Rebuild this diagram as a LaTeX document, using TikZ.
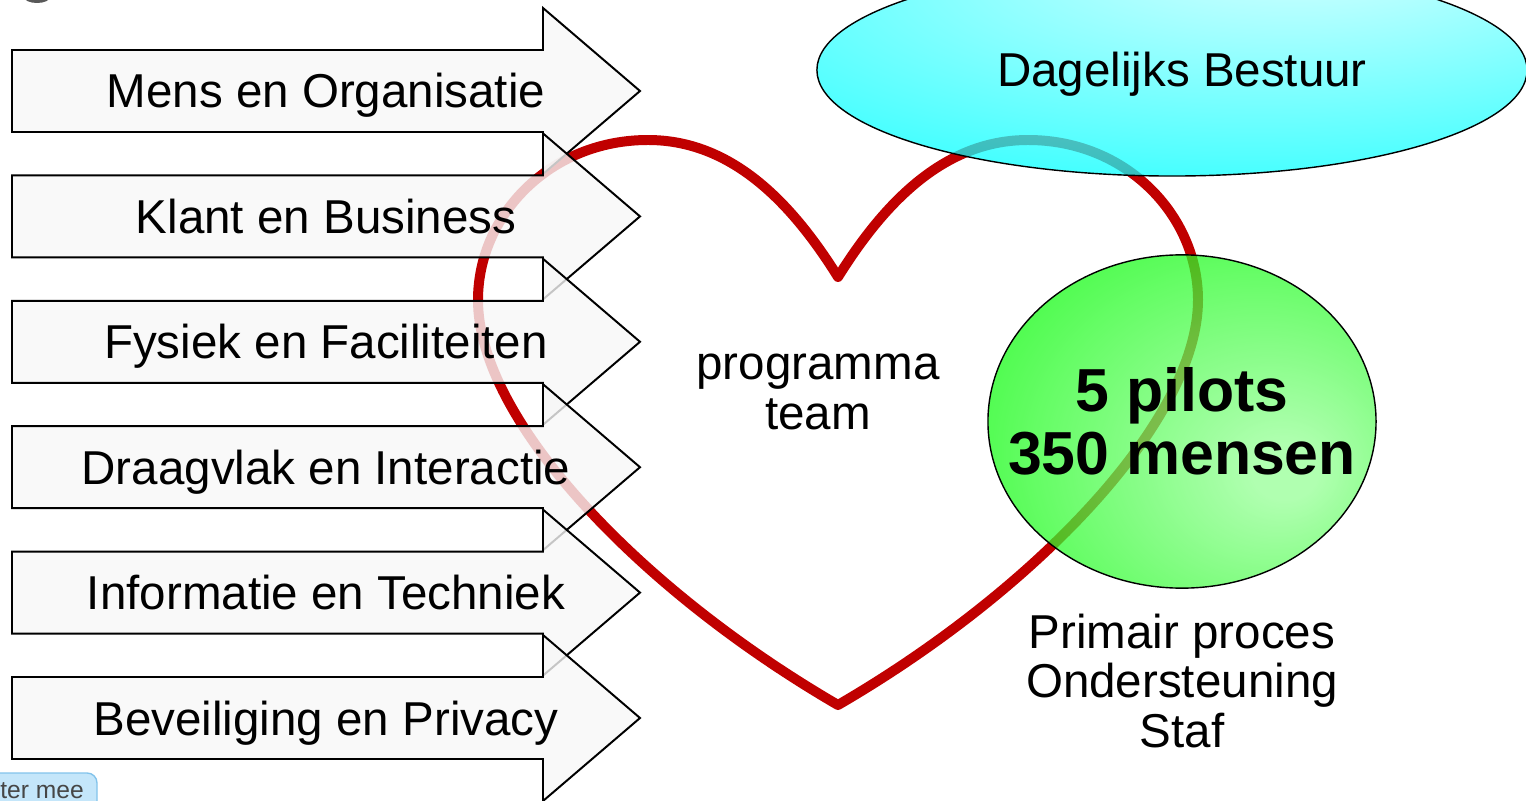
\documentclass[tikz,border=0pt]{standalone}
\usepackage{fontspec}
\setmainfont{Liberation Sans}
\usetikzlibrary{shapes.geometric}
\definecolor{heartred}{RGB}{192,0,0}
\definecolor{arrowgray}{RGB}{247,247,247}
\definecolor{boardcyan}{RGB}{0,255,255}
\definecolor{boardlight}{RGB}{180,255,255}
\definecolor{pilotgreen}{RGB}{0,250,0}
\definecolor{pilotlight}{RGB}{150,255,150}
\definecolor{btnblue}{RGB}{196,230,250}
\definecolor{btnedge}{RGB}{130,195,235}
\definecolor{btntext}{RGB}{70,70,70}
\pgfdeclareradialshading{boardshade}{\pgfpoint{10bp}{30bp}}{color(0bp)=(boardlight); color(6bp)=(boardlight); color(42bp)=(boardcyan); color(80bp)=(boardcyan)}
\pgfdeclareradialshading{pilotshade}{\pgfpoint{14bp}{-8bp}}{color(0bp)=(pilotlight); color(4bp)=(pilotlight); color(40bp)=(pilotgreen); color(80bp)=(pilotgreen)}

\begin{document}
\begin{tikzpicture}[x=0.025cm,y=-0.025cm,
  arrowbox/.style={draw=black,line width=1.4pt,fill=arrowgray,fill opacity=0.8},
  lbl/.style={font=\fontsize{33.8}{35}\selectfont,inner sep=0pt,align=center},
  biglbl/.style={font=\bfseries\fontsize{43.2}{44.8}\selectfont,inner sep=0pt,align=center}]
\useasboundingbox (0,0) rectangle (1526,801);
\fill[black!65] (37,-3) ellipse (13 and 6);
\draw[heartred,line width=7.1pt,line join=round]
  (838,277) .. controls (790,200) and (730,140) .. (648,140)
  .. controls (550,140) and (478,215) .. (478,300)
  .. controls (478,420) and (640,590) .. (838,705)
  .. controls (1036,590) and (1198,420) .. (1198,300)
  .. controls (1198,215) and (1126,140) .. (1028,140)
  .. controls (946,140) and (886,200) .. cycle;
\foreach \c in {91,216.4,341.8,467.2,592.6,718} {
    \filldraw[arrowbox] (12,\c-41) -- (543,\c-41) -- (543,\c-83) -- (640,\c)
      -- (543,\c+83) -- (543,\c+41) -- (12,\c+41) -- cycle;
}
\node[lbl,anchor=base] (mens) at (326,108) {Mens en Organisatie};
\node[lbl,anchor=base] (klant) at (326,233.4) {Klant en Business};
\node[lbl,anchor=base] (fysiek) at (326,358.8) {Fysiek en Faciliteiten};
\node[lbl,anchor=base] (draagvlak) at (326,484.2) {Draagvlak en Interactie};
\node[lbl,anchor=base] (informatie) at (326,609.6) {Informatie en Techniek};
\node[lbl,anchor=base] (beveiliging) at (326,735) {Beveiliging en Privacy};
\node[ellipse,draw=black,line width=1pt,shading=boardshade,fill opacity=0.75,
  minimum width=17.75cm,minimum height=5.3cm,inner sep=0pt] (bestuur) at (1172,70) {};
\node[lbl,anchor=base] (bestuurlbl) at (1182,87) {Dagelijks Bestuur};
\node[ellipse,draw=black,line width=1pt,shading=pilotshade,fill opacity=0.75,
  minimum width=9.7cm,minimum height=8.33cm,inner sep=0pt] (pilots) at (1182,421.5) {};
\node[biglbl] (pilotlbl) at (1182,421) {5 pilots\\350 mensen};
\node[lbl] (team) at (818,392) {programma\\team};
\node[lbl] (proces) at (1182,681) {Primair proces\\Ondersteuning\\Staf};
\draw[btnedge,fill=btnblue,line width=1pt,rounded corners=7pt] (-30,773) rectangle (97,830);
\node[font=\fontsize{17.5}{19}\selectfont,text=btntext,inner sep=0pt] (btn) at (42,791) {ter mee};
\end{tikzpicture}
\end{document}
